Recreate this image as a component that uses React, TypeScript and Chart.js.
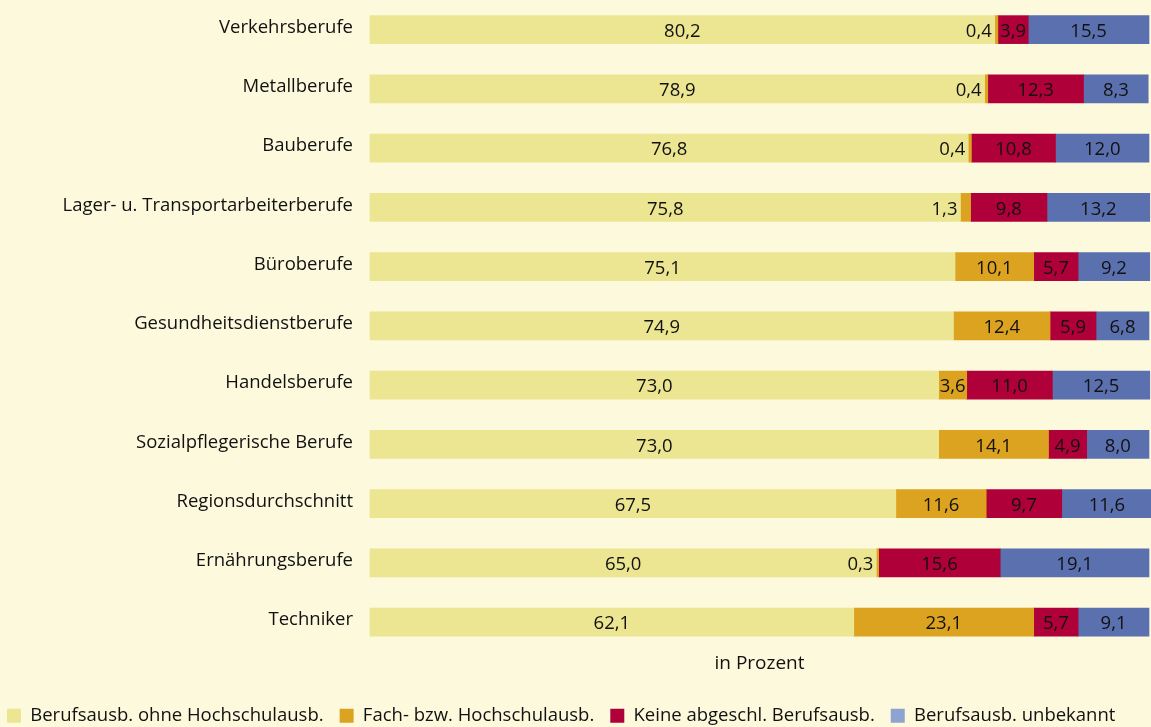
import React, { useEffect, useRef } from "react";
import { Chart, registerables } from "chart.js";

Chart.register(...registerables);

const categories = [
  "Verkehrsberufe",
  "Metallberufe",
  "Bauberufe",
  "Lager- u. Transportarbeiterberufe",
  "Büroberufe",
  "Gesundheitsdienstberufe",
  "Handelsberufe",
  "Sozialpflegerische Berufe",
  "Regionsdurchschnitt",
  "Ernährungsberufe",
  "Techniker",
];

const seriesNames = [
  "Berufsausb. ohne Hochschulausb.",
  "Fach- bzw. Hochschulausb.",
  "Keine abgeschl. Berufsausb.",
  "Berufsausb. unbekannt",
];

const ohneHochschul = [80.2, 78.9, 76.8, 75.8, 75.1, 74.9, 73.0, 73.0, 67.5, 65.0, 62.1];
const hochschul = [0.4, 0.4, 0.4, 1.3, 10.1, 12.4, 3.6, 14.1, 11.6, 0.3, 23.1];
const keineAusb = [3.9, 12.3, 10.8, 9.8, 5.7, 5.9, 11.0, 4.9, 9.7, 15.6, 5.7];
const unbekannt = [15.5, 8.3, 12.0, 13.2, 9.2, 6.8, 12.5, 8.0, 11.6, 19.1, 9.1];

const barColors = ["#ece592", "#dca321", "#b00039", "#5b70ae"];
const legendColors = ["#ece592", "#dca321", "#b00039", "#8fa3d1"];

const FONT = "'Open Sans', sans-serif";

const valueLabels = {
  id: "valueLabels",
  afterDatasetsDraw(chart: any) {
    const ctx = chart.ctx;
    ctx.save();
    ctx.font = `18.5px ${FONT}`;
    ctx.fillStyle = "#111111";
    ctx.textBaseline = "middle";
    chart.data.datasets.forEach((ds: any, di: number) => {
      const meta = chart.getDatasetMeta(di);
      meta.data.forEach((el: any, i: number) => {
        const v = ds.data[i];
        const txt = v.toFixed(1).replace(".", ",");
        const start = Math.min(el.x, el.base);
        const end = Math.max(el.x, el.base);
        if (v < 2) {
          ctx.textAlign = "right";
          ctx.fillText(txt, start - 3, el.y + 2);
        } else {
          ctx.textAlign = "center";
          ctx.fillText(txt, (start + end) / 2, el.y + 2);
        }
      });
    });
    ctx.restore();
  },
};

export default function App() {
  const ref = useRef<HTMLCanvasElement>(null);

  useEffect(() => {
    if (!ref.current) return;
    const data = [ohneHochschul, hochschul, keineAusb, unbekannt];
    const chart = new Chart(ref.current, {
      type: "bar",
      data: {
        labels: categories,
        datasets: data.map((d, i) => ({
          label: seriesNames[i],
          data: d,
          backgroundColor: barColors[i],
          borderWidth: 0,
          barThickness: 28,
          clip: false as any,
        })),
      },
      options: {
        indexAxis: "y",
        animation: false,
        responsive: true,
        maintainAspectRatio: false,
        layout: { padding: { left: -9, right: 2, top: 0, bottom: -8 } },
        scales: {
          x: {
            stacked: true,
            min: 0,
            max: 100,
            grid: { display: false, drawTicks: false },
            border: { display: false },
            ticks: { display: false },
            title: {
              display: true,
              text: "in Prozent",
              color: "#111111",
              font: { family: FONT, size: 19 },
              padding: { top: 0, bottom: 16 },
            },
          },
          y: {
            stacked: true,
            grid: { display: false, drawTicks: false },
            border: { display: false },
            ticks: {
              color: "#111111",
              font: { family: FONT, size: 18.5 },
              padding: 17,
              labelOffset: -2,
            },
            afterFit(scale: any) {
              scale.width = 379;
              scale.paddingTop = 0;
              scale.paddingBottom = 0;
            },
          },
        },
        plugins: {
          legend: {
            position: "bottom",
            align: "start",
            labels: {
              color: "#111111",
              font: { family: FONT, size: 18.5 },
              boxWidth: 14,
              boxHeight: 14,
              padding: 16,
              generateLabels(chart: any) {
                return chart.data.datasets.map((ds: any, i: number) => ({
                  text: ds.label,
                  fillStyle: legendColors[i],
                  strokeStyle: legendColors[i],
                  lineWidth: 0,
                  hidden: false,
                  datasetIndex: i,
                  fontColor: "#111111",
                }));
              },
            },
          },
          tooltip: { enabled: false },
        },
      },
      plugins: [valueLabels],
    });
    return () => chart.destroy();
  }, []);

  return (
    <div
      style={{
        position: "absolute",
        left: 0,
        top: 0,
        width: 1151,
        height: 727,
        background: "#fdf9dc",
      }}
    >
      <canvas ref={ref} />
    </div>
  );
}
